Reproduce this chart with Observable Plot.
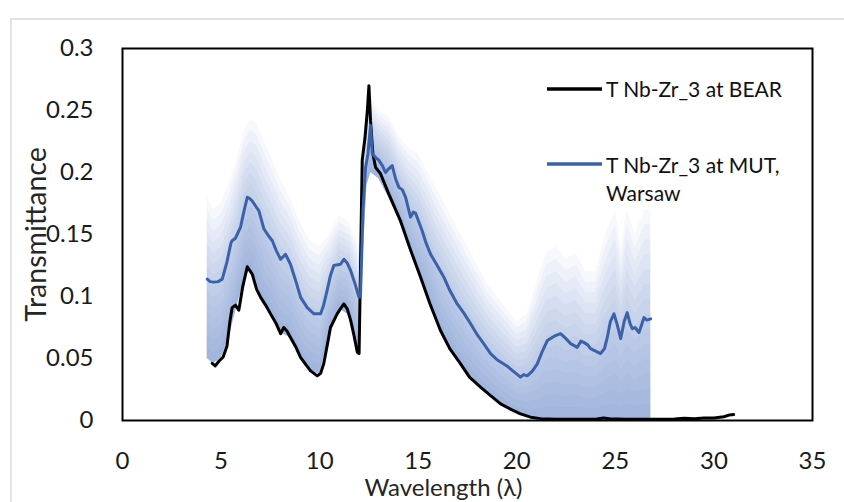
<!DOCTYPE html>
<html>
<head>
<meta charset="utf-8">
<script src="https://cdn.jsdelivr.net/npm/d3@7"></script>
<script src="https://cdn.jsdelivr.net/npm/@observablehq/plot@0.6"></script>
<style>
  html, body { margin: 0; padding: 0; background: #fff; }
  #chart { position: relative; width: 844px; height: 502px; overflow: hidden; }
  #chart g[aria-label^="x-axis"] text, #chart g[aria-label^="y-axis"] text { font-size: 24px; fill: #1a1a1a; }
</style>
</head>
<body>
<div id="chart"></div>
<script>
// ---- tick labels ----
const xTicks = [0, 5, 10, 15, 20, 25, 30, 35];
const yTicks = [0, 0.05, 0.1, 0.15, 0.2, 0.25, 0.3];
const yTickLabels = ["0", "0.05", "0.1", "0.15", "0.2", "0.25", "0.3"];

// ---- series names ----
const seriesNames = ["T Nb-Zr_3 at BEAR", "T Nb-Zr_3 at MUT,", "Warsaw"];

// ---- T Nb-Zr_3 at BEAR (black) ----
const bearX = [4.55, 4.7, 4.9, 5.1, 5.3, 5.45, 5.56, 5.73, 5.9, 6.1, 6.33, 6.58, 6.8, 7.0, 7.3, 7.51, 7.8, 8.02, 8.18, 8.35, 8.52, 8.8, 9.03, 9.3, 9.54, 9.88, 10.05, 10.21, 10.4, 10.55, 10.89, 11.05, 11.23, 11.4, 11.57, 11.75, 11.91, 12.0, 12.08, 12.16, 12.3, 12.42, 12.5, 12.58, 12.7, 12.84, 13.09, 13.5, 14.1, 14.6, 15.12, 15.6, 16.13, 16.6, 17.15, 17.6, 18.16, 18.67, 19.18, 19.7, 20.19, 20.7, 21.2, 22, 23, 24, 24.4, 24.7, 25.5, 27, 28, 28.5, 29, 29.5, 30, 30.5, 30.8, 31.0];
const bearY = [0.046, 0.044, 0.048, 0.051, 0.06, 0.08, 0.091, 0.093, 0.089, 0.108, 0.124, 0.118, 0.106, 0.0995, 0.092, 0.086, 0.078, 0.070, 0.075, 0.072, 0.067, 0.059, 0.051, 0.045, 0.040, 0.036, 0.038, 0.046, 0.062, 0.075, 0.086, 0.09, 0.094, 0.09, 0.081, 0.068, 0.055, 0.054, 0.13, 0.21, 0.228, 0.25, 0.27, 0.242, 0.215, 0.204, 0.199, 0.183, 0.161, 0.138, 0.1156, 0.094, 0.0726, 0.058, 0.0457, 0.035, 0.0269, 0.020, 0.0134, 0.009, 0.0054, 0.0027, 0.0015, 0.001, 0.001, 0.001, 0.002, 0.0015, 0.001, 0.001, 0.0012, 0.0018, 0.0015, 0.002, 0.002, 0.003, 0.0045, 0.0048];

// ---- T Nb-Zr_3 at MUT, Warsaw (blue) ----
const mutX = [4.3, 4.45, 4.63, 4.85, 5.06, 5.3, 5.5, 5.56, 5.73, 5.99, 6.15, 6.33, 6.45, 6.58, 6.75, 6.92, 7.17, 7.4, 7.6, 7.8, 8.02, 8.27, 8.52, 8.8, 9.03, 9.37, 9.71, 10.05, 10.2, 10.38, 10.55, 10.72, 11.06, 11.23, 11.4, 11.57, 11.8, 11.99, 12.07, 12.2, 12.33, 12.45, 12.58, 12.67, 12.85, 13.0, 13.2, 13.34, 13.5, 13.68, 13.85, 14.02, 14.2, 14.36, 14.61, 14.75, 14.87, 15.2, 15.4, 15.63, 16.0, 16.3, 16.6, 16.98, 17.3, 17.66, 18.0, 18.33, 18.67, 19.0, 19.5, 19.8, 20.19, 20.35, 20.53, 20.8, 21.04, 21.3, 21.55, 21.9, 22.22, 22.5, 22.73, 23.07, 23.25, 23.4, 23.6, 23.74, 24.0, 24.25, 24.45, 24.59, 24.75, 24.93, 25.1, 25.27, 25.45, 25.6, 25.75, 25.86, 26.0, 26.2, 26.35, 26.45, 26.6, 26.79];
const mutY = [0.114, 0.112, 0.1116, 0.112, 0.114, 0.128, 0.143, 0.145, 0.147, 0.156, 0.168, 0.180, 0.179, 0.177, 0.173, 0.169, 0.1546, 0.149, 0.145, 0.137, 0.130, 0.134, 0.126, 0.112, 0.0995, 0.091, 0.086, 0.086, 0.093, 0.105, 0.117, 0.125, 0.126, 0.130, 0.127, 0.121, 0.11, 0.0995, 0.0995, 0.17, 0.204, 0.215, 0.238, 0.215, 0.212, 0.21, 0.205, 0.200, 0.203, 0.2056, 0.195, 0.188, 0.186, 0.180, 0.164, 0.168, 0.167, 0.153, 0.143, 0.134, 0.124, 0.1156, 0.105, 0.094, 0.087, 0.078, 0.069, 0.0618, 0.054, 0.049, 0.044, 0.040, 0.035, 0.037, 0.036, 0.04, 0.0457, 0.056, 0.0645, 0.068, 0.070, 0.066, 0.062, 0.059, 0.064, 0.063, 0.061, 0.058, 0.056, 0.054, 0.058, 0.067, 0.08, 0.086, 0.077, 0.066, 0.08, 0.087, 0.078, 0.074, 0.075, 0.071, 0.078, 0.083, 0.081, 0.082];

// ---- shaded uncertainty band (lower / upper envelope) ----
const bandX = [4.3, 4.6, 5.0, 5.4, 5.8, 6.2, 6.5, 6.8, 7.2, 7.6, 8.0, 8.5, 9.0, 9.5, 10.0, 10.5, 11.0, 11.5, 12.0, 12.1, 12.4, 12.6, 13.0, 13.5, 14.0, 14.5, 15.0, 15.5, 16.0, 16.5, 17.0, 17.5, 18.0, 18.5, 19.0, 19.5, 20.0, 20.5, 21.0, 21.5, 22.0, 22.5, 23.0, 23.5, 24.0, 24.5, 25.0, 25.3, 25.6, 26.0, 26.5, 26.8];
const bandLow = [0.05, 0.046, 0.05, 0.067, 0.092, 0.115, 0.122, 0.11, 0.094, 0.084, 0.071, 0.067, 0.052, 0.041, 0.037, 0.07, 0.09, 0.085, 0.055, 0.1, 0.19, 0.2, 0.195, 0.18, 0.163, 0.14, 0.12, 0.1, 0.077, 0.062, 0.049, 0.038, 0.029, 0.022, 0.015, 0.01, 0.006, 0.003, 0.001, 0.001, 0.001, 0.001, 0.001, 0.001, 0.001, 0.001, 0.001, 0.001, 0.001, 0.001, 0.001, 0.001];
const bandHigh = [0.18, 0.17, 0.175, 0.19, 0.21, 0.235, 0.242, 0.24, 0.225, 0.21, 0.195, 0.18, 0.16, 0.145, 0.14, 0.15, 0.165, 0.16, 0.14, 0.2, 0.25, 0.26, 0.25, 0.245, 0.23, 0.22, 0.215, 0.2, 0.185, 0.17, 0.155, 0.14, 0.125, 0.11, 0.1, 0.09, 0.08, 0.085, 0.11, 0.135, 0.14, 0.13, 0.135, 0.12, 0.12, 0.15, 0.17, 0.14, 0.17, 0.15, 0.17, 0.17];

// ---- build tables ----
const bear = bearX.map((x, i) => ({x, y: bearY[i]}));
const mut = mutX.map((x, i) => ({x, y: mutY[i]}));
const band = bandX.map((x, i) => ({x, lo: bandLow[i], hi: bandHigh[i]}));
const layerCount = 14;

const blue = "#3b62a9";
const font = "Lato, 'Open Sans', sans-serif";

const bandLayers = d3.range(1, layerCount + 1).map(k =>
  Plot.areaY(band, {
    x: "x",
    y1: "lo",
    y2: d => d.lo + (k / layerCount) * (d.hi - d.lo),
    fill: "#5f87cf",
    fillOpacity: 0.056
  })
);

const chart = Plot.plot({
  width: 844,
  height: 502,
  marginLeft: 122,
  marginRight: 32,
  marginTop: 48,
  marginBottom: 82,
  style: {fontFamily: font, fontSize: "24px", color: "#000", background: "transparent", overflow: "visible"},
  x: {domain: [0, 35], ticks: xTicks, tickSize: 0, tickPadding: 31, label: null},
  y: {domain: [0, 0.3], ticks: yTicks, tickSize: 0, tickPadding: 29, label: null,
      tickFormat: d => yTickLabels[yTicks.indexOf(d)]},
  marks: [
    ...bandLayers,
    Plot.line(bear, {x: "x", y: "y", stroke: "#000", strokeWidth: 3, strokeLinejoin: "round"}),
    Plot.line(mut, {x: "x", y: "y", stroke: blue, strokeWidth: 3, strokeLinejoin: "round"}),
    Plot.frame({stroke: "#000", strokeWidth: 2}),
    Plot.text(["Wavelength (λ)"], {frameAnchor: "bottom", textAnchor: "middle", lineAnchor: "middle", dx: -24, dy: 68, fontSize: 24, fill: "#262626"}),
    Plot.text(["Transmittance"], {frameAnchor: "left", textAnchor: "middle", lineAnchor: "middle", rotate: -90, dx: -86, fontSize: 28.5, fill: "#262626"})
  ]
});

const svg = d3.select(chart);
// outer light chart-area border
svg.append("path").attr("d", "M11,502V19H844").attr("fill", "none").attr("stroke", "#d9d9d9").attr("stroke-width", 1.5);

// legend
const leg = svg.append("g").attr("font-family", font).attr("font-size", 21).attr("fill", "#111").attr("text-anchor", "start");
leg.append("line").attr("x1", 547).attr("x2", 602).attr("y1", 89).attr("y2", 89).attr("stroke", "#000").attr("stroke-width", 3.5);
leg.append("text").attr("x", 606).attr("y", 89).attr("dy", "0.36em").text(seriesNames[0]);
leg.append("line").attr("x1", 547).attr("x2", 602).attr("y1", 164).attr("y2", 164).attr("stroke", blue).attr("stroke-width", 3.5);
leg.append("text").attr("x", 606).attr("y", 165).attr("dy", "0.36em").text(seriesNames[1]);
leg.append("text").attr("x", 606).attr("y", 193).attr("dy", "0.36em").text(seriesNames[2]);

document.getElementById("chart").appendChild(chart);
</script>
</body>
</html>
